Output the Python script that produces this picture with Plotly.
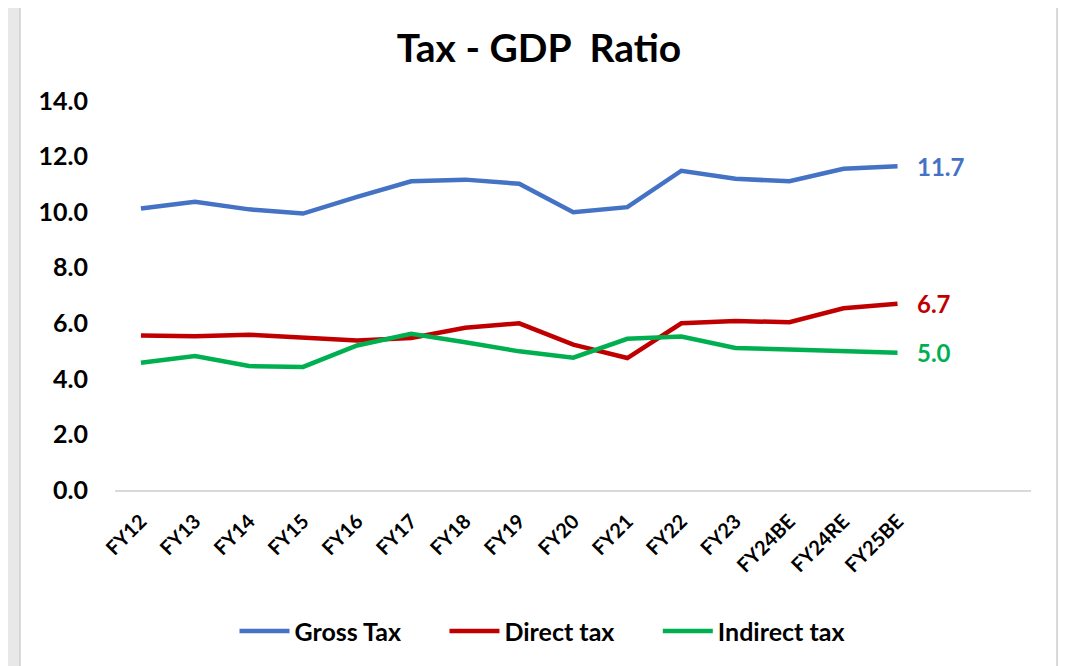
import plotly.graph_objects as go

categories = ["FY12", "FY13", "FY14", "FY15", "FY16", "FY17", "FY18", "FY19",
              "FY20", "FY21", "FY22", "FY23", "FY24BE", "FY24RE", "FY25BE"]
gross_tax = [10.13, 10.37, 10.10, 9.95, 10.55, 11.11, 11.17, 11.02,
             10.00, 10.18, 11.49, 11.20, 11.11, 11.56, 11.65]
direct_tax = [5.56, 5.53, 5.59, 5.48, 5.38, 5.47, 5.84, 6.00,
              5.23, 4.75, 6.00, 6.08, 6.04, 6.54, 6.70]
indirect_tax = [4.58, 4.82, 4.46, 4.43, 5.20, 5.62, 5.32, 4.99,
                4.76, 5.44, 5.52, 5.11, 5.06, 5.02, 4.94]
end_labels = ["11.7", "6.7", "5.0"]
y_ticks = [0, 2, 4, 6, 8, 10, 12, 14]

series = [("Gross Tax", gross_tax, "#4472C4"),
          ("Direct tax", direct_tax, "#C00000"),
          ("Indirect tax", indirect_tax, "#00B050")]

FONT = "Lato"
OFF = 8                      # page body margin
W, H = 1066 - OFF, 666 - OFF
# plot area in page pixels
PL, PR, PT, PB = 115, 1031, 101, 492
L, R, T, B = PL - OFF, PR - OFF, PT - OFF, PB - OFF


def px(x):  # page pixel -> paper x
    return (x - OFF - L) / (R - L)


def py(y):  # page pixel -> paper y
    return (B - (y - OFF)) / (B - T)


fig = go.Figure()
for i, ((name, vals, color), lab) in enumerate(zip(series, end_labels)):
    pad = "&nbsp;" * 6 if i < len(series) - 1 else ""
    fig.add_trace(go.Scatter(x=categories, y=vals, mode="lines",
                             name="<b>%s</b>%s" % (name, pad),
                             line=dict(color=color, width=4.5)))
    fig.add_annotation(x=categories[-1], y=vals[-1], text="<b>%s</b>" % lab,
                       showarrow=False, xanchor="left", yanchor="middle",
                       xshift=17, font=dict(family=FONT, size=24, color=color))

shapes = [
    dict(type="rect", xref="paper", yref="paper", layer="below",
         x0=px(20), x1=px(1057), y0=py(670), y1=py(5),
         fillcolor="white", line=dict(color="#d0d0d0", width=1.5)),
    dict(type="rect", xref="paper", yref="paper", layer="above",
         x0=px(1058), x1=px(1066), y0=py(670), y1=py(14),
         fillcolor="#a8a8a8", line=dict(width=0)),
]

fig.update_layout(
    width=W, height=H,
    margin=dict(l=L, r=W - R, t=T, b=H - B, pad=0),
    paper_bgcolor="#e8e8e8", plot_bgcolor="rgba(0,0,0,0)",
    shapes=shapes,
    title=dict(text="<b>Tax - GDP  Ratio</b>", x=(539 - OFF) / W, xanchor="center",
               y=1 - (48 - OFF) / H, yanchor="middle",
               font=dict(family=FONT, size=39, color="black")),
    xaxis=dict(type="category", range=[-0.48, 16.47], showgrid=False,
               showline=True, linecolor="#d9d9d9", linewidth=1.5,
               ticks="", tickangle=-45, ticklabelstandoff=10,
               tickvals=categories, ticktext=["<b>%s</b>" % c for c in categories],
               tickfont=dict(family=FONT, size=20, color="black")),
    yaxis=dict(range=[0, 14], tickvals=y_ticks,
               ticktext=["<b>%.1f</b>" % v for v in y_ticks],
               showgrid=False, zeroline=False, showline=False, ticks="",
               ticklabelstandoff=26,
               tickfont=dict(family=FONT, size=25, color="black")),
    legend=dict(orientation="h", x=(542 - OFF - L) / (R - L), xanchor="center",
                y=py(634), yanchor="middle",
                font=dict(family=FONT, size=25, color="black"),
                bgcolor="rgba(0,0,0,0)", itemwidth=50, tracegroupgap=0),
    showlegend=True,
)

fig.write_html("out.html")
